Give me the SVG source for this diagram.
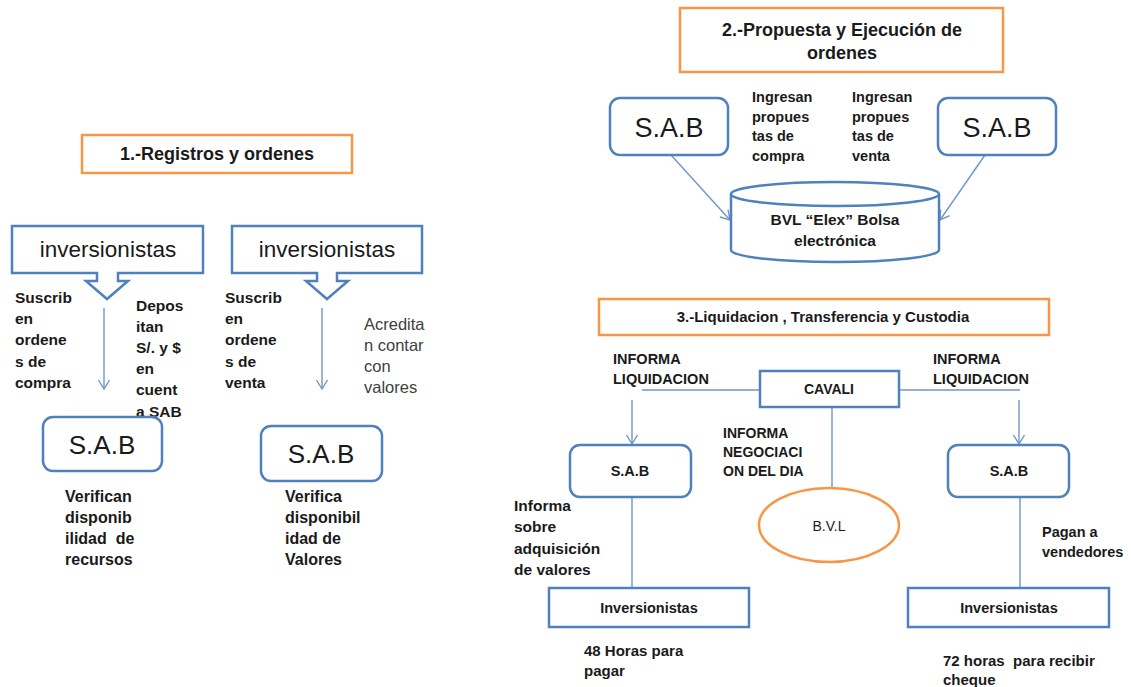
<svg xmlns="http://www.w3.org/2000/svg" width="1131" height="687" viewBox="0 0 1131 687">
<defs>
<style>
.bg{fill:#ffffff}
.ob{fill:#ffffff;stroke:#F79646;stroke-width:2.5}
.bb{fill:#ffffff;stroke:#4F81BD;stroke-width:2.5}
.ln{fill:none;stroke:#7096C8;stroke-width:1.4}
.t{font-family:"Liberation Sans",Arial,sans-serif;fill:#1a1a1a}
.b{font-weight:bold}
.c{text-anchor:middle}
.g{fill:#404040}
</style>
<marker id="ah" markerWidth="14" markerHeight="14" refX="10" refY="6" orient="auto" markerUnits="userSpaceOnUse">
<path d="M1,0.5 L10,6 L1,11.5" fill="none" stroke="#7096C8" stroke-width="1.4"/>
</marker>
</defs>
<rect class="bg" x="0" y="0" width="1131" height="687"/>

<!-- Connectors -->
<g id="connectors">
<line class="ln" x1="104" y1="308" x2="104" y2="389" marker-end="url(#ah)"/>
<line class="ln" x1="322" y1="308" x2="322" y2="389" marker-end="url(#ah)"/>
<line class="ln" x1="671" y1="155" x2="730" y2="220" marker-end="url(#ah)"/>
<line class="ln" x1="985" y1="155" x2="940" y2="220" marker-end="url(#ah)"/>
<line class="ln" x1="642" y1="390" x2="760" y2="390"/>
<line class="ln" x1="899" y1="390" x2="1020" y2="390"/>
<line class="ln" x1="632" y1="400" x2="632" y2="444" marker-end="url(#ah)"/>
<line class="ln" x1="1019" y1="400" x2="1019" y2="444" marker-end="url(#ah)"/>
<line class="ln" x1="832" y1="407" x2="832" y2="488"/>
<line class="ln" x1="632" y1="497" x2="632" y2="588"/>
<line class="ln" x1="1020" y1="497" x2="1020" y2="588"/>
</g>

<!-- Section 1 -->
<g id="h1">
<rect class="ob" x="82" y="135" width="270" height="38"/>
<text class="t b c" x="217" y="160" font-size="18">1.-Registros y ordenes</text>
</g>
<g id="inv1">
<path class="bb" d="M12,226 H203 V273 H118 V281 H128 L107,299 L86,281 H97 V273 H12 Z"/>
<text class="t c" x="108" y="257" font-size="22.5">inversionistas</text>
</g>
<g id="inv2">
<path class="bb" d="M232,226 H422 V273 H337 V281 H348 L327,299 L306,281 H317 V273 H232 Z"/>
<text class="t c" x="327" y="257" font-size="22.5">inversionistas</text>
</g>
<g id="lbl1a">
<text class="t b" font-size="15.5"><tspan x="15" y="303">Suscrib</tspan><tspan x="15" y="324">en</tspan><tspan x="15" y="345">ordene</tspan><tspan x="15" y="367">s de</tspan><tspan x="15" y="388">compra</tspan></text>
</g>
<g id="lbl1b">
<text class="t b" font-size="15.5"><tspan x="136" y="311">Depos</tspan><tspan x="136" y="332">itan</tspan><tspan x="136" y="353">S/. y $</tspan><tspan x="136" y="374">en</tspan><tspan x="136" y="395">cuent</tspan><tspan x="136" y="417">a SAB</tspan></text>
</g>
<g id="lbl1c">
<text class="t b" font-size="15.5"><tspan x="225" y="303">Suscrib</tspan><tspan x="225" y="324">en</tspan><tspan x="225" y="345">ordene</tspan><tspan x="225" y="367">s de</tspan><tspan x="225" y="388">venta</tspan></text>
</g>
<g id="lbl1d">
<text class="t g" font-size="16.5"><tspan x="364" y="330">Acredita</tspan><tspan x="364" y="351">n contar</tspan><tspan x="364" y="372">con</tspan><tspan x="364" y="393">valores</tspan></text>
</g>
<g id="sab1a">
<rect class="bb" x="43" y="417" width="119" height="54" rx="10"/>
<text class="t c" x="102" y="454" font-size="26">S.A.B</text>
</g>
<g id="sab1b">
<rect class="bb" x="261" y="426" width="121" height="55" rx="10"/>
<text class="t c" x="321" y="463" font-size="26">S.A.B</text>
</g>
<g id="lbl1e">
<text class="t b" font-size="16"><tspan x="65" y="502">Verifican</tspan><tspan x="65" y="523">disponib</tspan><tspan x="65" y="544">ilidad&#160; de</tspan><tspan x="65" y="565">recursos</tspan></text>
</g>
<g id="lbl1f">
<text class="t b" font-size="16"><tspan x="285" y="502">Verifica</tspan><tspan x="285" y="523">disponibil</tspan><tspan x="285" y="544">idad de</tspan><tspan x="285" y="565">Valores</tspan></text>
</g>

<!-- Section 2 -->
<g id="h2">
<rect class="ob" x="680" y="8" width="323" height="64"/>
<text class="t b c" font-size="18"><tspan x="842" y="36">2.-Propuesta y Ejecución de</tspan><tspan x="842" y="59">ordenes</tspan></text>
</g>
<g id="sab2a">
<rect class="bb" x="610" y="98" width="118" height="57" rx="10"/>
<text class="t c" x="669" y="137" font-size="27">S.A.B</text>
</g>
<g id="sab2b">
<rect class="bb" x="938" y="98" width="118" height="57" rx="10"/>
<text class="t c" x="997" y="137" font-size="27">S.A.B</text>
</g>
<g id="lbl2a">
<text class="t b" font-size="14.5"><tspan x="752" y="102">Ingresan</tspan><tspan x="752" y="122">propues</tspan><tspan x="752" y="141">tas de</tspan><tspan x="752" y="161">compra</tspan></text>
</g>
<g id="lbl2b">
<text class="t b" font-size="14.5"><tspan x="852" y="102">Ingresan</tspan><tspan x="852" y="122">propues</tspan><tspan x="852" y="141">tas de</tspan><tspan x="852" y="161">venta</tspan></text>
</g>
<g id="bvl-elex">
<path class="bb" d="M731,194 V250 A104,12 0 0 0 939,250 V194"/>
<ellipse class="bb" cx="835" cy="194" rx="104" ry="12"/>
<text class="t b c" font-size="15.5"><tspan x="835" y="225">BVL “Elex” Bolsa</tspan><tspan x="835" y="246">electrónica</tspan></text>
</g>

<!-- Section 3 -->
<g id="h3">
<rect class="ob" x="599" y="299" width="450" height="36"/>
<text class="t b c" x="823" y="322" font-size="15">3.-Liquidacion , Transferencia y Custodia</text>
</g>
<g id="lbl3a">
<text class="t b" font-size="14.5"><tspan x="613" y="364">INFORMA</tspan><tspan x="613" y="384">LIQUIDACION</tspan></text>
</g>
<g id="lbl3b">
<text class="t b" font-size="14.5"><tspan x="933" y="364">INFORMA</tspan><tspan x="933" y="384">LIQUIDACION</tspan></text>
</g>
<g id="cavali">
<rect class="bb" x="760" y="371" width="139" height="36"/>
<text class="t b c" x="829" y="394" font-size="14">CAVALI</text>
</g>
<g id="lbl3c">
<text class="t b" font-size="14"><tspan x="723" y="438">INFORMA</tspan><tspan x="723" y="457">NEGOCIACI</tspan><tspan x="723" y="476">ON DEL DIA</tspan></text>
</g>
<g id="sab3a">
<rect class="bb" x="570" y="445" width="121" height="52" rx="10"/>
<text class="t b c" x="630" y="476" font-size="14.5">S.A.B</text>
</g>
<g id="sab3b">
<rect class="bb" x="948" y="445" width="121" height="52" rx="10"/>
<text class="t b c" x="1009" y="476" font-size="14.5">S.A.B</text>
</g>
<g id="bvl">
<ellipse cx="829" cy="525" rx="70" ry="37" fill="#ffffff" stroke="#F79646" stroke-width="2.5"/>
<text class="t c" x="829" y="531" font-size="14" fill="#333">B.V.L</text>
</g>
<g id="lbl3d">
<text class="t b" font-size="15.5"><tspan x="514" y="511">Informa</tspan><tspan x="514" y="532">sobre</tspan><tspan x="514" y="554">adquisición</tspan><tspan x="514" y="575">de valores</tspan></text>
</g>
<g id="lbl3e">
<text class="t b" font-size="14.5"><tspan x="1042" y="537">Pagan a</tspan><tspan x="1042" y="557">vendedores</tspan></text>
</g>
<g id="inv3a">
<rect class="bb" x="549" y="588" width="200" height="39"/>
<text class="t b c" x="649" y="613" font-size="14.5">Inversionistas</text>
</g>
<g id="inv3b">
<rect class="bb" x="908" y="588" width="201" height="39"/>
<text class="t b c" x="1009" y="613" font-size="14.5">Inversionistas</text>
</g>
<g id="lbl3f">
<text class="t b" font-size="15"><tspan x="584" y="656">48 Horas para</tspan><tspan x="584" y="676">pagar</tspan></text>
</g>
<g id="lbl3g">
<text class="t b" font-size="15"><tspan x="943" y="666">72 horas&#160; para recibir</tspan><tspan x="943" y="685">cheque</tspan></text>
</g>
</svg>
